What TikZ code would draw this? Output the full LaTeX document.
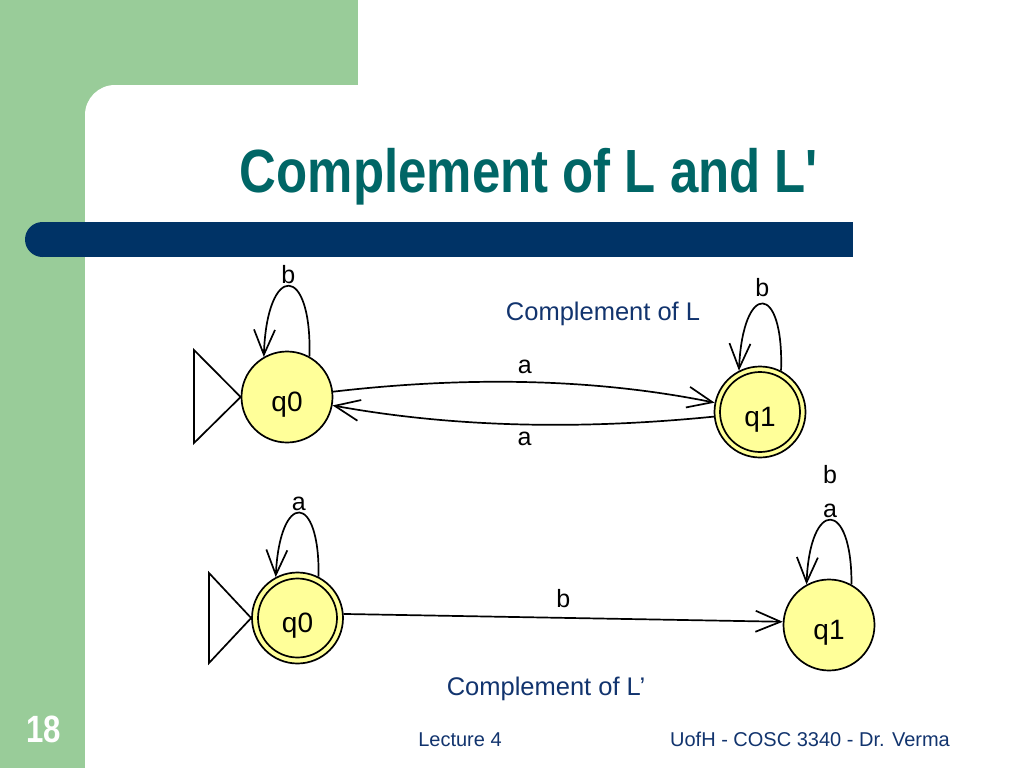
\documentclass[tikz,border=0pt]{standalone}
\usepackage{fontspec}
\setmainfont{Liberation Sans}
\usetikzlibrary{arrows.meta,bending}
\definecolor{slgreen}{RGB}{153,204,153}
\definecolor{slnavy}{RGB}{0,51,102}
\definecolor{slteal}{RGB}{0,102,102}
\definecolor{sltext}{RGB}{18,52,110}
\definecolor{styellow}{RGB}{255,255,153}
\tikzset{
  fsm/.style={circle, draw=black, fill=styellow, line width=1.7pt, minimum size=91pt, inner sep=0pt, font=\fontsize{28}{28}\selectfont},
  trans/.style={draw=black, line width=1.7pt, -{Straight Barb[length=25pt,width=21pt,line width=1.7pt]}},
  lbl/.style={font=\fontsize{25}{34}\selectfont, inner sep=1pt},
  initmark/.style={draw=black, line width=1.7pt, line join=miter},
  slidetext/.style={text=sltext, font=\fontsize{25.5}{25.5}\selectfont, inner sep=0pt, anchor=base},
  foot/.style={text=sltext, font=\fontsize{20}{20}\selectfont, inner sep=0pt, anchor=base}
}
\newcommand{\stname}[1]{\smash{\raisebox{-14pt}{#1}}}
\newcommand{\straightq}{\XeTeXglyph\XeTeXcharglyph"0027\relax}
\begin{document}
\begin{tikzpicture}[x=1pt,y=-1pt]
\useasboundingbox (0,0) rectangle (1024,768);
% background
\begin{scope}
\clip (0,0) rectangle (1024,768);
\fill[white] (0,0) rectangle (1024,768);
\fill[slgreen] (0,0) rectangle (358,120);
\fill[slgreen] (0,0) rectangle (120,768);
\fill[white, rounded corners=30pt] (85,85) rectangle (1100,850);
\end{scope}
% navy bar
\fill[slnavy] (42,222) rectangle (853,257);
\fill[slnavy] (42.5,239.5) circle[radius=17.5];
% title
\node[text=slteal, font=\bfseries\fontsize{61}{61}\selectfont, inner sep=0pt, anchor=base] (title) at (529,192) {\scalebox{0.835}[1]{Complement of L and L\straightq}};
% top automaton
\node[fsm] (tq0) at (287,397) {\stname{q0}};
\node[fsm] (tq1) at (760,412) {\stname{q1}};
\draw[line width=1.7pt] (tq1.center) circle[radius=40];
\draw[initmark] (194,350) -- (tq0.west) -- (194,443) -- cycle;
\draw[trans] (tq0.61) .. controls (312,262) and (266,262) .. node[lbl, above] {b} (tq0.120);
\draw[trans] (tq1.63) .. controls (784,281) and (742,281) .. node[lbl, above=5pt] {b} (tq1.117);
\draw[trans] (tq0) .. controls (460,377) and (590,377) .. node[lbl, above=6pt] {a} (tq1);
\draw[trans] (tq1) .. controls (590,429) and (460,429) .. node[lbl, below=6pt] {a} (tq0);
\node[slidetext] (capL) at (603,320) {Complement of L};
% bottom automaton
\node[fsm] (bq0) at (297.5,618) {\stname{q0}};
\node[fsm] (bq1) at (829,625) {\stname{q1}};
\draw[line width=1.7pt] (bq0.center) circle[radius=39.5];
\draw[initmark] (209,573) -- (bq0.west) -- (209,663) -- cycle;
\draw[trans] (bq0.63) .. controls (320,491) and (279,491) .. node[lbl, above] {a} (bq0.118);
\draw[trans] (bq1.61) .. controls (852,498) and (809,498) .. node[lbl, above, align=center] {b\\a} (bq1.119);
\draw[trans] (bq0.5) -- node[lbl, above=8pt] {b} (bq1.176);
\node[slidetext] (capLp) at (546,695) {Complement of L’};
% footer
\node[text=white, font=\bfseries\fontsize{38}{38}\selectfont, inner sep=0pt, anchor=base] (pnum) at (44,742) {\scalebox{0.82}[1]{18}};
\node[foot] (lect) at (460,746) {Lecture 4};
\node[foot] (auth) at (810,746) {UofH - COSC 3340 - Dr. Verma};
\end{tikzpicture}
\end{document}
